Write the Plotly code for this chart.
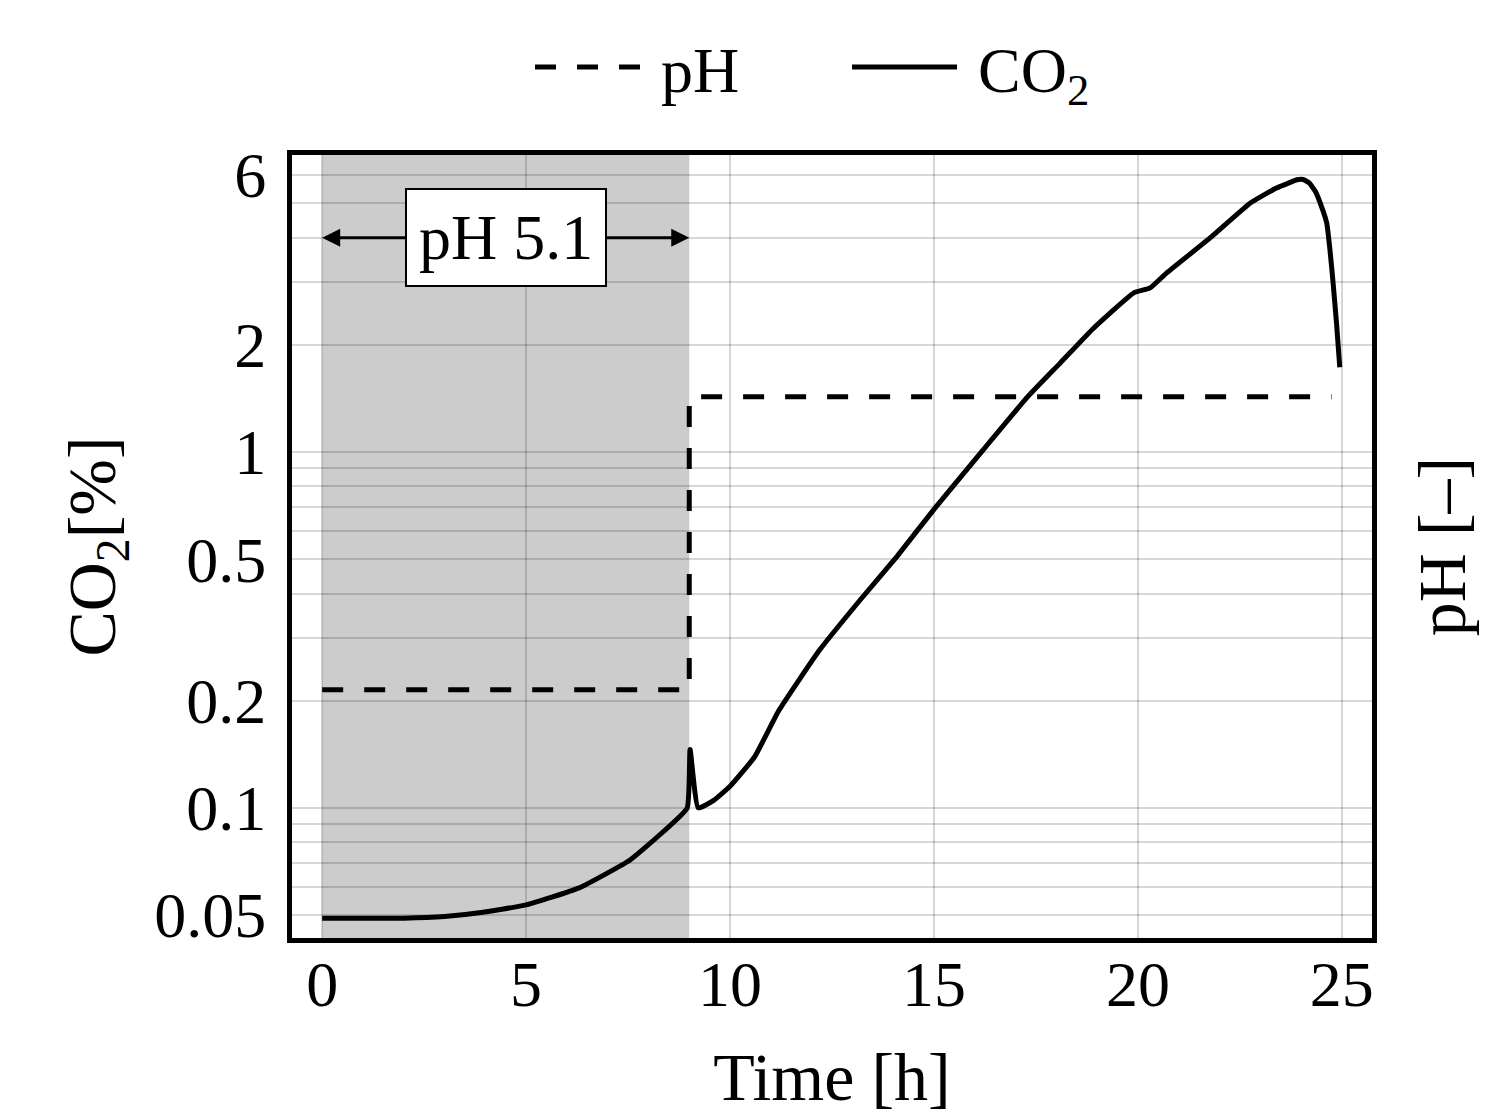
import numpy as np
import plotly.graph_objects as go

# ---- data ----
co2_time = [0, 1, 2, 3, 3.9, 5.0, 6.3, 7.55, 8.36, 8.95, 9.02, 9.22, 9.6, 10.0, 10.6,
            11.2, 12.2, 13.2, 14.1, 15.0, 16.1, 17.3, 18.1, 18.9, 19.9, 20.3, 20.7,
            21.8, 22.75, 23.4, 23.73, 23.9, 24.05, 24.2, 24.35, 24.5, 24.63, 24.71, 24.78,
            24.87, 24.95]
co2_val = [0.049, 0.049, 0.049, 0.0495, 0.0508, 0.0534, 0.0596, 0.0714, 0.0857, 0.1, 0.146,
           0.1, 0.105, 0.115, 0.139, 0.188, 0.278, 0.385, 0.51, 0.69, 0.98, 1.43, 1.78, 2.22,
           2.8, 2.89, 3.18, 4.02, 5.0, 5.52, 5.72, 5.82, 5.83, 5.7, 5.4, 4.9, 4.4, 3.69, 3.04,
           2.3, 1.73]

ph_time = [0, 9, 9, 24.75]
ph_val = [5.1, 5.1, 6.3, 6.3]

x_ticks = [0, 5, 10, 15, 20, 25]
y_ticks = [0.05, 0.1, 0.2, 0.5, 1, 2, 6]
y_tick_labels = ["0.05", "0.1", "0.2", "0.5", "1", "2", "6"]
y_minor = [0.06, 0.07, 0.08, 0.09, 0.3, 0.4, 0.6, 0.7, 0.8, 0.9, 3, 4, 5]

phase_start, phase_end = 0, 9
phase_label = "pH 5.1"
phase_label_y = 4.0

FONT = "Liberation Serif"
FS = 64
TFS = 68

fig = go.Figure()
fig.add_trace(go.Scatter(x=ph_time, y=ph_val, name="\u00a0pH", mode="lines", yaxis="y2",
                         line=dict(color="black", width=5, dash="21px,21px")))
fig.add_trace(go.Scatter(x=co2_time, y=co2_val, name="\u00a0CO<sub>2</sub>", mode="lines",
                         line=dict(color="black", width=5, shape="spline", smoothing=0.4)))

fig.add_shape(type="rect", xref="x", yref="paper", x0=phase_start, x1=phase_end, y0=0, y1=1,
              fillcolor="#cccccc", line=dict(width=0), layer="below")

mid = (phase_start + phase_end) / 2
for head in (phase_start, phase_end):
    fig.add_annotation(x=head, y=np.log10(phase_label_y), ax=mid, ay=np.log10(phase_label_y),
                       xref="x", yref="y", axref="x", ayref="y", text="", showarrow=True,
                       arrowhead=2, arrowsize=1.2, arrowwidth=3, arrowcolor="black")
fig.add_annotation(x=mid, y=np.log10(phase_label_y), xref="x", yref="y", text=phase_label,
                   showarrow=False, bgcolor="white", bordercolor="black", borderwidth=2,
                   borderpad=12, font=dict(family=FONT, size=FS, color="black"))

grid = "rgba(0,0,0,0.16)"
fig.update_layout(
    width=1508, height=1115,
    margin=dict(l=292, r=136, t=155, b=177, autoexpand=False),
    paper_bgcolor="white", plot_bgcolor="white",
    font=dict(family=FONT, size=FS, color="black"),
    showlegend=True,
    legend=dict(orientation="h", x=0.2204, y=1.112, xanchor="left", yanchor="middle",
                font=dict(family=FONT, size=FS), itemwidth=105, entrywidth=197,
                entrywidthmode="pixels", bgcolor="rgba(0,0,0,0)"),
    xaxis=dict(range=[-0.74, 25.74], tickvals=x_ticks, ticks="", showgrid=True,
               gridcolor=grid, gridwidth=1.5, zeroline=False, showline=True, linewidth=5,
               linecolor="black", mirror=True, ticklabelstandoff=-14,
               title=dict(text="Time [h]", standoff=46, font=dict(size=TFS))),
    yaxis=dict(type="log", range=[np.log10(0.0431), np.log10(6.83)], tickvals=y_ticks,
               ticktext=y_tick_labels, ticks="", showgrid=True,
               gridcolor=grid, gridwidth=1.5, zeroline=False, showline=True, linewidth=5,
               linecolor="black", mirror=True, ticklabelstandoff=8,
               minor=dict(tickvals=y_minor, showgrid=True, gridcolor=grid, gridwidth=1.5,
                          ticks=""),
               title=dict(text="CO<sub>2</sub>[%]", standoff=18, font=dict(size=TFS))),
    yaxis2=dict(overlaying="y", side="right", range=[4.084, 7.29], showgrid=False,
                showticklabels=False, ticks="", zeroline=False, showline=False,
                title=dict(text="pH [–]", standoff=45, font=dict(size=TFS))),
)

fig.write_html("out.html")
